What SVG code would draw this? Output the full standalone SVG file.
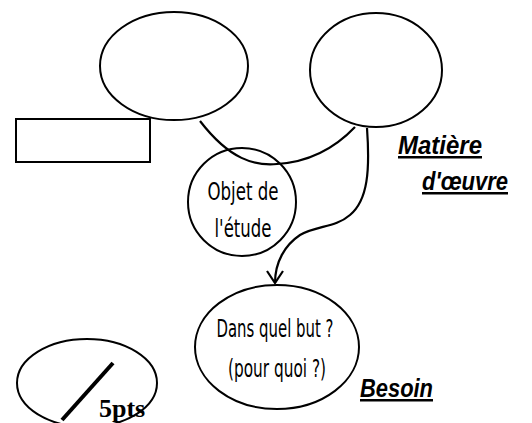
<svg xmlns="http://www.w3.org/2000/svg" width="532" height="423" viewBox="0 0 532 423">
<style>
.n{fill:none;stroke:#000;stroke-width:2}
.c{fill:none;stroke:#000;stroke-width:2.2}
.t{font-family:"DejaVu Sans","Liberation Sans",sans-serif;font-size:24px;fill:#000;text-anchor:middle}
.l{font-family:"Liberation Sans",Arial,sans-serif;font-weight:bold;font-style:italic;font-size:25px;fill:#000;text-decoration:underline}
</style>
<rect width="532" height="423" fill="#fff"/>
<g id="left-ellipse"><ellipse class="n" cx="174" cy="66" rx="74" ry="54"/></g>
<g id="right-ellipse"><ellipse class="n" cx="376" cy="70" rx="66" ry="57"/></g>
<g id="box"><rect class="n" x="16" y="119" width="134" height="43" fill="#fff" style="fill:#fff"/></g>
<g id="objet">
<ellipse class="n" cx="242" cy="202" rx="54" ry="54"/>
<text class="t" x="243" y="200" textLength="71" lengthAdjust="spacingAndGlyphs">Objet de</text>
<text class="t" x="243" y="237" textLength="57" lengthAdjust="spacingAndGlyphs">l'étude</text>
</g>
<g id="besoin-node">
<ellipse class="n" cx="277" cy="347" rx="82" ry="62"/>
<text class="t" x="275" y="337" textLength="117" lengthAdjust="spacingAndGlyphs">Dans quel but ?</text>
<text class="t" x="277" y="377" textLength="98" lengthAdjust="spacingAndGlyphs">(pour quoi ?)</text>
</g>
<g id="connectors">
<path class="c" d="M200,121 C230,160 255,166 277,164 C310,162 335,148 355,127"/>
<path class="c" d="M367,128 C370,170 368,200 350,215 C335,228 318,225 300,235 C285,245 275,262 275,283"/>
<path class="c" d="M267,271 L275,283 L283,271"/>
</g>
<g id="labels">
<text class="l" x="398" y="154" textLength="84" lengthAdjust="spacingAndGlyphs">Matière</text>
<text class="l" x="422" y="190" textLength="86" lengthAdjust="spacingAndGlyphs">d'œuvre</text>
<text class="l" x="360" y="397" textLength="73" lengthAdjust="spacingAndGlyphs">Besoin</text>
</g>
<g id="score">
<ellipse fill="none" stroke="#000" stroke-width="2" cx="87" cy="383" rx="70" ry="44"/>
<line x1="113" y1="363" x2="62" y2="420" stroke="#000" stroke-width="4"/>
<text x="99" y="417" font-family="Liberation Serif,serif" font-weight="bold" font-size="26">5pts</text>
</g>
</svg>
